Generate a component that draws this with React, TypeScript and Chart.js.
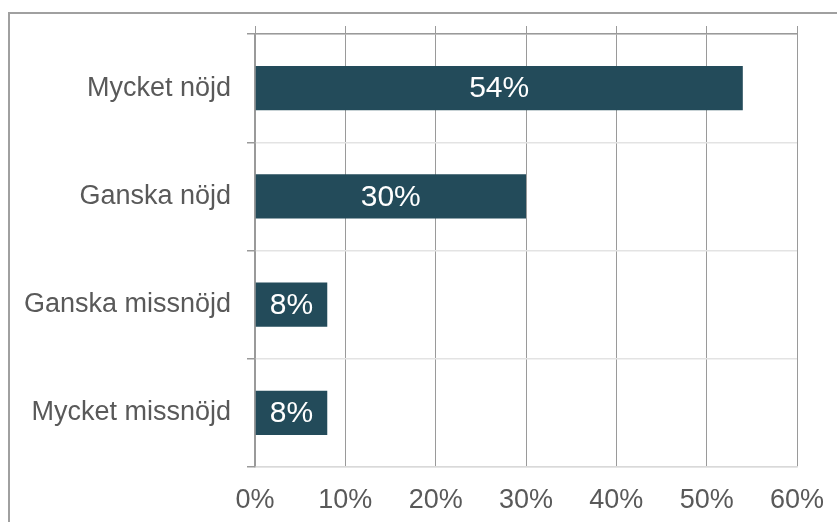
import React, { useEffect, useRef } from "react";
import { Chart, registerables } from "chart.js";

Chart.register(...registerables);

const categories = ["Mycket nöjd", "Ganska nöjd", "Ganska missnöjd", "Mycket missnöjd"];
const values = [54, 30, 8, 8];
const xTickMin = 0;
const xTickMax = 60;
const xTickStep = 10;

const FONT = "'Liberation Sans', Arial, sans-serif";

const dataLabelPlugin = {
  id: "dataLabels",
  afterDatasetsDraw(chart: any) {
    const ctx = chart.ctx;
    const meta = chart.getDatasetMeta(0);
    ctx.save();
    ctx.fillStyle = "#ffffff";
    ctx.font = `30px ${FONT}`;
    ctx.textAlign = "center";
    ctx.textBaseline = "middle";
    meta.data.forEach((el: any, i: number) => {
      const cx = (el.x + el.base) / 2;
      ctx.fillText(values[i] + "%", cx, el.y + 1);
    });
    ctx.restore();
  },
};

export default function App() {
  const ref = useRef<HTMLCanvasElement | null>(null);

  useEffect(() => {
    if (!ref.current) return;
    const chart = new Chart(ref.current, {
      type: "bar",
      data: {
        labels: categories,
        datasets: [
          {
            data: values,
            backgroundColor: "#234b5a",
            borderWidth: 0,
            barPercentage: 0.41,
            categoryPercentage: 1,
          },
        ],
      },
      options: {
        indexAxis: "y",
        responsive: false,
        animation: false,
        layout: { padding: { top: 34, right: 40, left: 0, bottom: 0 } },
        plugins: {
          legend: { display: false },
          tooltip: { enabled: false },
        },
        scales: {
          x: {
            position: "bottom",
            min: xTickMin,
            max: xTickMax,
            ticks: {
              stepSize: xTickStep,
              callback: (v: any) => v + "%",
              color: "#595959",
              font: { family: FONT, size: 27 },
              padding: 17,
              maxRotation: 0,
            },
            grid: {
              color: "#9a9a9a",
              lineWidth: 1,
              drawTicks: false,
            },
            border: { color: "#d9d9d9", width: 1.5 },
            afterFit: (s: any) => {
              s.height = 55;
              s.paddingLeft = 0;
              s.paddingRight = 0;
            },
          },
          x2: {
            position: "top",
            axis: "x",
            min: xTickMin,
            max: xTickMax,
            ticks: { stepSize: xTickStep, display: false },
            grid: {
              drawOnChartArea: false,
              drawTicks: true,
              tickLength: 8,
              color: "#9a9a9a",
              lineWidth: 1,
            },
            border: { color: "#9a9a9a", width: 1.5, z: 1 },
            afterFit: (s: any) => {
              s.height = 0;
              s.paddingLeft = 0;
              s.paddingRight = 0;
            },
          },
          y: {
            position: "left",
            ticks: {
              color: "#595959",
              font: { family: FONT, size: 27 },
              padding: 16,
            },
            grid: {
              offset: true,
              color: "#e3e3e3",
              lineWidth: 1.5,
              tickColor: "#9a9a9a",
              tickLength: 8,
            },
            border: { color: "#9a9a9a", width: 1.5, z: 1 },
            afterFit: (s: any) => {
              s.width = 255;
            },
          },
        },
      },
      plugins: [dataLabelPlugin],
    } as any);
    return () => chart.destroy();
  }, []);

  return (
    <div
      style={{
        position: "fixed",
        left: 0,
        top: 0,
        width: 837,
        height: 522,
        overflow: "hidden",
        background: "#ffffff",
      }}
    >
      <div
        style={{
          position: "absolute",
          left: 8,
          top: 12,
          width: 1000,
          height: 1000,
          borderLeft: "2px solid #a0a0a0",
          borderTop: "2px solid #a0a0a0",
        }}
      />
      <canvas
        ref={ref}
        width={837}
        height={522}
        style={{ position: "absolute", left: 0, top: 0 }}
      />
    </div>
  );
}
